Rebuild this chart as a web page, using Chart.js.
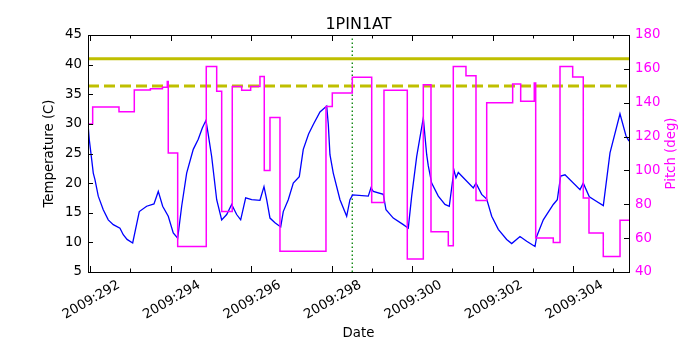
<!DOCTYPE html>
<html><head><meta charset="utf-8">
<script src="https://cdn.jsdelivr.net/npm/chart.js@4.4.1/dist/chart.umd.min.js"></script>
<style>html,body{margin:0;padding:0;background:#fff;}canvas{display:block;}</style>
</head><body>
<canvas id="c" width="700" height="350"></canvas>
<script>
const chartTitle = '1PIN1AT';
const xAxisTitle = 'Date';
const leftAxisTitle = 'Temperature (C)';
const rightAxisTitle = 'Pitch (deg)';

const tempDays = [290.95,290.981,291.041,291.081,291.123,291.205,291.329,291.453,291.578,291.744,291.826,291.92,292.060,
  292.224,292.407,292.589,292.696,292.805,292.944,293.068,293.178,293.277,293.401,293.565,293.689,293.79,293.881,
  293.938,294.022,294.147,294.271,294.395,294.519,294.643,294.743,294.867,295.016,295.222,295.322,295.389,295.471,
  295.595,295.737,295.801,295.925,296.050,296.199,296.298,296.43,296.547,296.713,296.880,296.92,296.961,297.043,
  297.210,297.376,297.458,297.525,297.913,297.980,298.037,298.286,298.353,298.534,298.783,298.907,298.991,299.116,
  299.280,299.364,299.404,299.488,299.652,299.818,299.925,300.042,300.092,300.149,300.522,300.589,300.730,300.855,
  300.979,301.143,301.351,301.476,301.682,301.848,302.055,302.097,302.261,302.509,302.609,302.693,302.800,303.173,
  303.254,303.404,303.588,303.752,303.918,304.166,304.315,304.39];
const tempValues = [30.0,27.4,24.0,21.7,20.6,17.8,15.5,13.8,13.0,12.4,11.3,10.5,9.9,
  15.2,16.1,16.5,18.6,16.1,14.4,11.6,10.7,16.1,21.7,25.7,27.4,29.3,30.6,
  28.2,24.5,17.2,13.8,14.7,16.4,14.7,13.8,17.5,17.2,17.1,19.4,17.2,14.1,
  13.3,12.6,15.2,17.2,20.0,21.1,25.7,28.3,29.9,32.0,33.0,29.9,24.8,21.7,
  17.2,14.4,17.2,18.0,17.8,19.2,18.6,18.1,15.5,14.1,13.0,12.4,17.8,24.5,
  31.0,24.8,22.9,20.0,17.8,16.4,16.1,22.2,20.9,21.8,19.2,20.0,18.1,17.3,
  14.4,12.2,10.5,9.8,11.0,10.2,9.3,11.0,13.8,16.4,17.2,21.2,21.4,18.9,
  20.0,17.7,16.9,16.2,25.1,31.7,28.0,27.1];

const pitchDays = [290.95,291.066,291.72,292.10,292.50,292.80,292.92,292.944,293.178,293.888,294.147,294.271,294.534,
  294.768,294.991,295.222,295.329,295.471,295.719,296.862,297.019,297.516,297.998,298.303,298.882,299.280,299.471,
  299.901,300.025,300.340,300.589,300.855,301.500,301.699,302.037,302.072,302.509,302.676,302.991,303.254,303.396,
  303.751,304.167,304.39];
const pitchValues = [127.4,137.4,134.7,147.5,148.3,149.2,152.6,110.3,55.1,161.4,146.7,75.8,149.6,
  147.3,149.6,155.5,100.0,131.3,52.2,137.8,145.7,155.0,81.1,147.3,47.7,150.6,63.8,
  55.5,161.4,156.0,82.3,140.0,151.0,140.8,151.6,60.1,57.5,161.4,155.2,83.7,63.0,
  49.2,70.5,70.5];

const limitDays = [290.95, 304.39];
const solidLimit = [41.0, 41.0];
const dashedLimit = [36.4, 36.4];
const markerDays = [297.515, 297.515];
const markerTemps = [5, 45];

const xTickDays = [291,292,293,294,295,296,297,298,299,300,301,302,303,304];
const xLabelDays = [292,294,296,298,300,302,304];
const xLabels = ['2009:292','2009:294','2009:296','2009:298','2009:300','2009:302','2009:304'];

const FONT = '"DejaVu Sans", "Liberation Sans", sans-serif';
const pts = (xs, ys) => xs.map((x, i) => ({x, y: ys[i]}));

const decor = {
  id: 'decor',
  afterDatasetsDraw(chart) {
    const ctx = chart.ctx, a = chart.chartArea;
    const xs = chart.scales.x, yl = chart.scales.y, yr = chart.scales.y2;
    ctx.save();
    ctx.strokeStyle = '#000';
    ctx.lineWidth = 1;
    ctx.strokeRect(a.left + 0.5, a.top + 0.5, a.right - a.left, a.bottom - a.top);
    ctx.beginPath();
    xTickDays.forEach(d => {
      const px = Math.round(xs.getPixelForValue(d)) + 0.5;
      const len = (d % 2 === 1) ? 6 : 3.5;
      ctx.moveTo(px, a.bottom); ctx.lineTo(px, a.bottom - len);
      ctx.moveTo(px, a.top); ctx.lineTo(px, a.top + len);
    });
    yl.ticks.forEach(t => {
      const py = Math.round(yl.getPixelForValue(t.value)) + 0.5;
      ctx.moveTo(a.left, py); ctx.lineTo(a.left + 5, py);
    });
    yr.ticks.forEach(t => {
      const py = Math.round(yr.getPixelForValue(t.value)) + 0.5;
      ctx.moveTo(a.right, py); ctx.lineTo(a.right - 5, py);
    });
    ctx.stroke();

    ctx.fillStyle = '#000';
    ctx.font = '13.3px ' + FONT;
    ctx.textAlign = 'right';
    ctx.textBaseline = 'bottom';
    const h = 15.5, pad = 4.4, shift = 8;
    xLabelDays.forEach((d, i) => {
      const px = xs.getPixelForValue(d) - shift;
      ctx.save();
      ctx.translate(px, a.bottom + pad + h * Math.cos(Math.PI / 6));
      ctx.rotate(-Math.PI / 6);
      ctx.fillText(xLabels[i], 0, 0);
      ctx.restore();
    });

    ctx.textAlign = 'center';
    ctx.textBaseline = 'alphabetic';
    ctx.font = '16px ' + FONT;
    ctx.fillText(chartTitle, (a.left + a.right) / 2, 28.5);
    ctx.font = '13.3px ' + FONT;
    ctx.fillText(xAxisTitle, (a.left + a.right) / 2, 337);
    ctx.textBaseline = 'middle';
    ctx.save();
    ctx.translate(50, (a.top + a.bottom) / 2);
    ctx.rotate(-Math.PI / 2);
    ctx.fillText(leftAxisTitle, 0, 0);
    ctx.restore();
    ctx.save();
    ctx.fillStyle = '#ff00ff';
    ctx.translate(671.5, (a.top + a.bottom) / 2);
    ctx.rotate(-Math.PI / 2);
    ctx.fillText(rightAxisTitle, 0, 0);
    ctx.restore();
    ctx.restore();
  }
};

new Chart(document.getElementById('c'), {
  type: 'line',
  data: {
    datasets: [
      { label: 'Pitch', data: pts(pitchDays, pitchValues), yAxisID: 'y2', borderColor: '#ff00ff', borderWidth: 1.5,
        stepped: true, pointRadius: 0, fill: false, order: 0 },
      { label: 'Temperature', data: pts(tempDays, tempValues), yAxisID: 'y', borderColor: '#0000ff', borderWidth: 1.3,
        tension: 0, pointRadius: 0, fill: false, order: 1 },
      { label: 'Limit', data: pts(limitDays, solidLimit), yAxisID: 'y', borderColor: '#bfbf00', borderWidth: 3,
        pointRadius: 0, fill: false, order: 2 },
      { label: 'Caution', data: pts(limitDays, dashedLimit), yAxisID: 'y', borderColor: '#bfbf00', borderWidth: 3,
        borderDash: [11, 5], pointRadius: 0, fill: false, order: 2 },
      { label: 'Now', data: pts(markerDays, markerTemps), yAxisID: 'y', borderColor: '#008000', borderWidth: 1.3,
        borderDash: [1.5, 2.5], pointRadius: 0, fill: false, order: 3 }
    ]
  },
  options: {
    responsive: false,
    animation: false,
    devicePixelRatio: 1,
    layout: { padding: { top: 35, left: 0, right: 0, bottom: 0 } },
    plugins: { legend: { display: false }, tooltip: { enabled: false }, title: { display: false } },
    scales: {
      x: {
        type: 'linear', min: 290.95, max: 304.39,
        grid: { display: false, drawTicks: false }, border: { display: false },
        ticks: { display: false },
        afterFit: s => { s.height = 78; }
      },
      y: {
        position: 'left', min: 5, max: 45,
        grid: { display: false, drawTicks: false }, border: { display: false },
        ticks: { stepSize: 5, color: '#000', padding: 6, font: { family: FONT, size: 13.3 } },
        afterFit: s => { s.width = 88; }
      },
      y2: {
        position: 'right', min: 40, max: 180,
        grid: { display: false, drawTicks: false }, border: { display: false },
        ticks: { stepSize: 20, color: '#ff00ff', padding: 6, font: { family: FONT, size: 13.3 } },
        afterFit: s => { s.width = 71; }
      }
    }
  },
  plugins: [decor]
});
</script>
</body></html>
